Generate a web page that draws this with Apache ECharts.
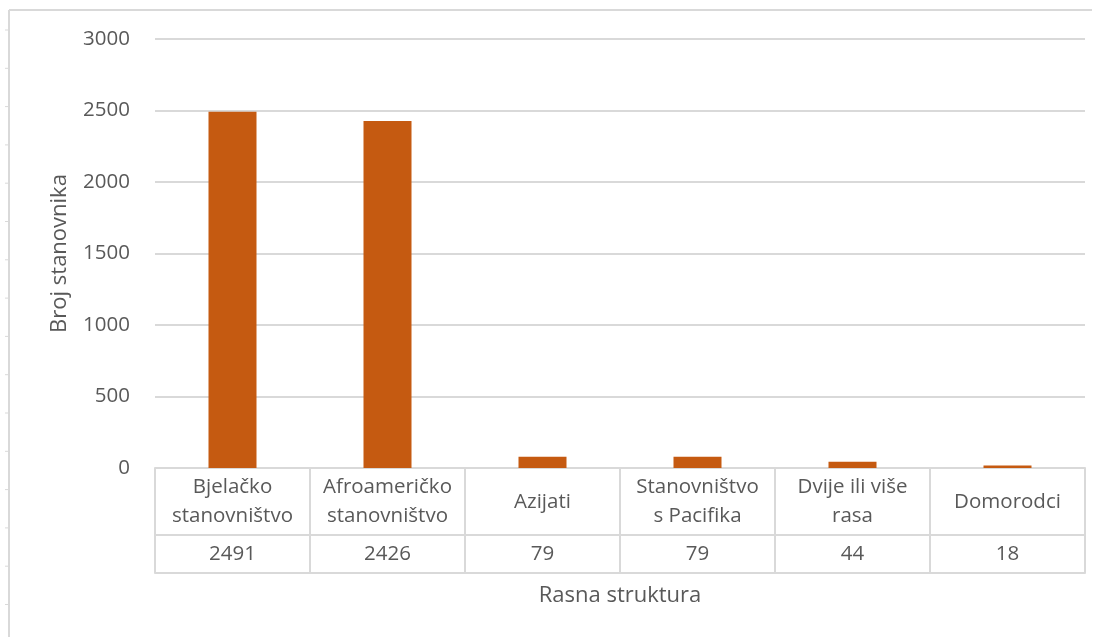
<!DOCTYPE html>
<html>
<head>
<meta charset="utf-8">
<script src="https://cdn.jsdelivr.net/npm/echarts@6/dist/echarts.min.js"></script>
<style>
  html, body { margin: 0; padding: 0; background: #fff; }
  #main { width: 1100px; height: 637px; }
</style>
</head>
<body>
<div id="main"></div>
<script>
var categories = ['Bjelačko\nstanovništvo', 'Afroameričko\nstanovništvo', 'Azijati', 'Stanovništvo\ns Pacifika', 'Dvije ili više\nrasa', 'Domorodci'];
var values = [2491, 2426, 79, 79, 44, 18];
var yTicks = { min: 0, max: 3000, interval: 500 };

var textColor = '#595959';
var lineColor = '#D9D9D9';
var font = 'Open Sans';

var chart = echarts.init(document.getElementById('main'));

// little frame marks on the left edge, like the screenshot border
var frame = [
    { type: 'line', shape: { x1: 9, y1: 10, x2: 9, y2: 637 }, style: { stroke: lineColor, lineWidth: 2 } },
    { type: 'line', shape: { x1: 9, y1: 10, x2: 1092, y2: 10 }, style: { stroke: lineColor, lineWidth: 2 } }
];
for (var y = 30; y < 637; y += 38.3) {
    frame.push({ type: 'line', shape: { x1: 5, y1: y, x2: 9, y2: y }, style: { stroke: lineColor, lineWidth: 1 } });
}

var option = {
    animation: false,
    textStyle: { fontFamily: font },
    grid: { left: 155, right: 15, top: 39, bottom: 169, containLabel: false },
    graphic: frame,
    xAxis: [
        {
            type: 'category',
            data: categories,
            axisLine: { show: true, lineStyle: { color: lineColor, width: 2 } },
            axisTick: { show: true, interval: 0, length: 105, lineStyle: { color: lineColor, width: 2 } },
            axisLabel: {
                interval: 0, color: textColor, fontSize: 20.5, fontFamily: font,
                margin: 34, verticalAlign: 'middle', lineHeight: 29
            }
        },
        {
            type: 'category',
            data: values.map(String),
            position: 'bottom',
            offset: 67,
            axisLine: { show: true, lineStyle: { color: lineColor, width: 2 } },
            axisTick: { show: false },
            axisLabel: {
                interval: 0, color: textColor, fontSize: 20.5, fontFamily: font,
                margin: 19, verticalAlign: 'middle'
            }
        },
        {
            type: 'category',
            data: categories,
            position: 'bottom',
            offset: 105,
            axisLine: { show: true, lineStyle: { color: lineColor, width: 2 } },
            axisTick: { show: false },
            axisLabel: { show: false },
            name: 'Rasna struktura',
            nameLocation: 'middle',
            nameGap: 12,
            nameTextStyle: { color: textColor, fontSize: 22, fontFamily: font, verticalAlign: 'top' }
        }
    ],
    yAxis: {
        type: 'value',
        min: yTicks.min,
        max: yTicks.max,
        interval: yTicks.interval,
        axisLine: { show: false },
        axisTick: { show: false },
        axisLabel: {
            color: textColor, fontSize: 20.5, fontFamily: font, margin: 25,
            formatter: function (v) { return String(v); }
        },
        splitLine: { lineStyle: { color: lineColor, width: 2 } },
        name: 'Broj stanovnika',
        nameLocation: 'middle',
        nameGap: 84,
        nameTextStyle: { color: textColor, fontSize: 22, fontFamily: font }
    },
    series: [
        {
            type: 'bar',
            xAxisIndex: 0,
            data: values,
            barWidth: 48,
            itemStyle: { color: '#C55A11' }
        }
    ]
};
chart.setOption(option);
</script>
</body>
</html>
